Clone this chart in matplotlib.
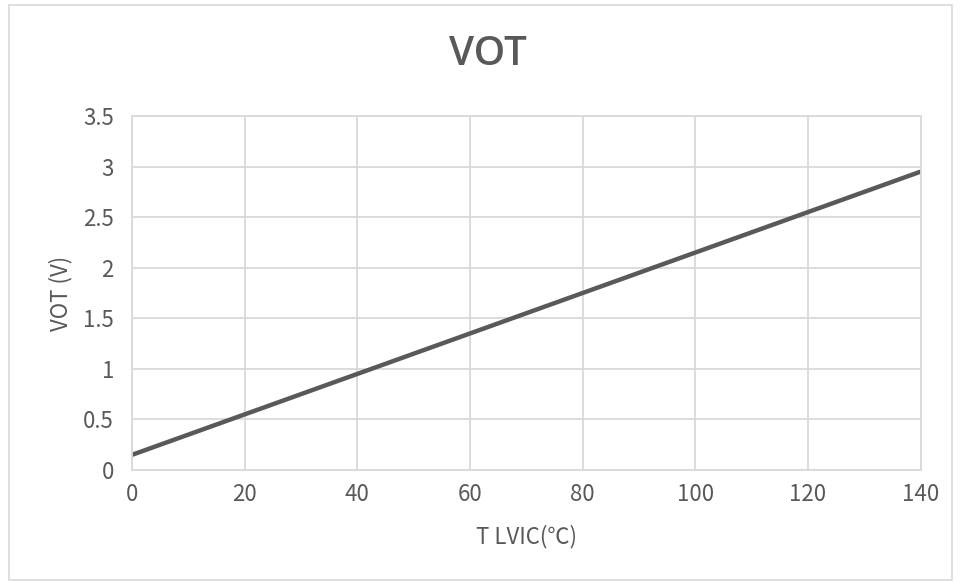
import matplotlib
matplotlib.use("Agg")
import matplotlib.pyplot as plt
from matplotlib.patches import Rectangle

plt.rcParams['font.family'] = ['Noto Sans CJK SC', 'DejaVu Sans']

# data
temp_c = [0, 20, 40, 60, 80, 100, 120, 140]
vot_v = [0.15, 0.55, 0.95, 1.35, 1.75, 2.15, 2.55, 2.95]

x_ticks = [0, 20, 40, 60, 80, 100, 120, 140]
y_ticks = [0, 0.5, 1, 1.5, 2, 2.5, 3, 3.5]
y_labels = ['0', '0.5', '1', '1.5', '2', '2.5', '3', '3.5']

text_col = '#595959'
grid_col = '#d9d9d9'

fig = plt.figure(figsize=(9.6, 5.82), dpi=100)

# chart area border
fig.patches.append(Rectangle((0.009, 0.003), 0.983, 0.988, transform=fig.transFigure,
                             fill=False, edgecolor=grid_col, linewidth=1.2))

ax = fig.add_axes([0.1375, 0.1924, 0.8215, 0.6083])
ax.plot(temp_c, vot_v, color=text_col, linewidth=3.2, solid_capstyle='butt')

ax.set_xlim(0, 140)
ax.set_ylim(0, 3.5)
ax.set_xticks(x_ticks)
ax.set_yticks(y_ticks)
ax.set_yticklabels(y_labels)
ax.grid(True, color=grid_col, linewidth=1.3)
ax.set_axisbelow(True)

for s in ax.spines.values():
    s.set_color(grid_col)
    s.set_linewidth(1.3)

ax.tick_params(axis='y', length=0, colors=text_col, labelsize=16, pad=13)
ax.tick_params(axis='x', length=0, colors=text_col, labelsize=16, pad=9)
for lbl in ax.get_xticklabels() + ax.get_yticklabels():
    lbl.set_fontweight('light')

ax.set_xlabel('T LVIC(℃)', color=text_col, fontsize=16, fontweight='light', labelpad=14)
ax.set_ylabel('VOT (V)', color=text_col, fontsize=16, fontweight='light', labelpad=8)

fig.text(0.508, 0.905, 'VOT', ha='center', va='center', color=text_col,
         fontsize=29, fontweight='semibold', family=['Open Sans', 'DejaVu Sans'])

fig.savefig('out.png', dpi=100)
plt.close(fig)
